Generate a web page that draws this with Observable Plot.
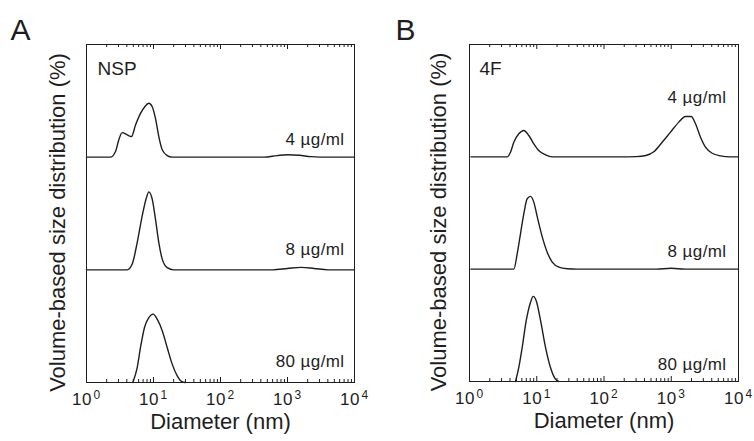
<!DOCTYPE html>
<html><head><meta charset="utf-8">
<script src="https://cdn.jsdelivr.net/npm/d3@7"></script>
<script src="https://cdn.jsdelivr.net/npm/@observablehq/plot@0.6"></script>
<style>
body{margin:0;background:#fff;}
#wrap{display:flex;width:754px;height:441px;overflow:hidden;}
#wrap svg{font-family:"Liberation Sans",Arial,Helvetica,sans-serif;color:#1e1e1e;}
.conc text{letter-spacing:0.4px;}
.tk text{letter-spacing:0.5px;}
</style></head><body><div id="wrap"></div>
<script>
// ---- data ----
const tickValues = [1, 10, 100, 1000, 10000];
const tickExponents = ["0", "1", "2", "3", "4"];
const concentrations = ["4 µg/ml", "8 µg/ml", "80 µg/ml"];
const stackOffsets = [20, 10, 0]; // % units added to stack the three traces
const yTitle = "Volume-based size distribution (%)";
const xTitle = "Diameter (nm)";

// [diameter (nm), volume %]
const nsp4 = [[1,0],[2.28,0],[2.71,0.5],[3.03,1.53],[3.41,2.18],[4.05,1.98],[4.69,1.83],[5.39,2.85],[6.4,3.89],[7.41,4.48],[8.51,4.78],[9.57,4.48],[10.7,3.44],[12.0,1.83],[13.5,0.65],[16.0,0.14],[19.0,0],[450,0],[700,0.14],[1000,0.22],[1500,0.17],[2200,0.05],[3000,0],[10000,0]];
const nsp8 = [[1,0],[4.05,0],[4.81,0.51],[5.71,2.42],[6.78,4.79],[7.86,6.42],[8.51,6.92],[9.57,6.27],[10.7,4.5],[12.0,2.42],[13.5,0.95],[16.0,0.2],[20.1,0],[600,0],[1000,0.12],[1600,0.22],[2500,0.12],[4000,0],[10000,0]];
const nsp80 = [[4.91,0],[5.71,1.33],[6.4,3.11],[7.34,4.88],[8.51,5.75],[9.89,6.07],[11.4,5.6],[13.5,4.6],[16.0,3.11],[19.0,1.63],[22.6,0.59],[26.8,0.06],[30,0]];

const f4 = [[1.05,0],[3.64,0],[4.07,0.41],[4.56,1.3],[5.41,2.05],[6.42,2.35],[7.62,1.9],[9.04,1.16],[10.7,0.56],[13.5,0.18],[17.0,0],[176,0],[300,0.02],[420,0.12],[550,0.45],[733,1.3],[975,2.2],[1296,3.09],[1628,3.59],[1981,3.59],[2296,2.94],[2725,1.75],[3231,0.86],[4063,0.32],[5400,0.09],[7600,0],[10000,0]];
const f8 = [[1.05,0],[4.56,0],[5.12,1.37],[5.73,3.15],[6.42,4.93],[7.21,6.27],[8.07,6.48],[9.04,5.97],[10.2,4.63],[12.1,2.85],[14.3,1.51],[17.0,0.62],[21.3,0.18],[28.4,0.04],[40,0],[600,0],[1000,0.08],[1600,0],[10000,0]];
const f80 = [[4.83,0],[5.41,1.25],[6.08,3.04],[6.97,5.41],[8.07,7.04],[8.85,7.58],[9.82,7.19],[11.4,5.41],[13.5,3.04],[16.0,1.25],[19.0,0.21],[21.3,0]];

// ---- drawing ----
function panel(cfg) {
  const rows = [];
  cfg.curves.forEach((c, i) => c.forEach(([d, v]) => rows.push({series: concentrations[i], d, y: v + stackOffsets[i]})));
  const innerH = 441 - 44 - cfg.mb;
  const logTicks = d3.scaleLog().domain([1, 10000]).ticks();
  const minor = logTicks.filter(t => !tickValues.includes(t));
  const ink = "#1e1e1e";
  return Plot.plot({
    width: 377, height: 441,
    marginLeft: cfg.ml, marginRight: cfg.mr, marginTop: 44, marginBottom: cfg.mb,
    x: {type: "log", domain: [1, 10000], axis: null},
    y: {domain: [0, 30], axis: null},
    marks: [
      Plot.tickX(minor, {x: d => d, stroke: ink, strokeWidth: 1, insetTop: innerH - 3}),
      Plot.tickX(tickValues, {x: d => d, stroke: ink, strokeWidth: 1, insetTop: innerH - 5}),
      Plot.tickX(minor, {x: d => d, stroke: ink, strokeWidth: 1, insetBottom: innerH - 3}),
      Plot.tickX(tickValues, {x: d => d, stroke: ink, strokeWidth: 1, insetBottom: innerH - 5}),
      Plot.frame({stroke: ink, strokeWidth: 1}),
      Plot.line(rows, {x: "d", y: "y", z: "series", stroke: ink, strokeWidth: 1.4, curve: "monotone-x"}),
      // tick labels 10^n
      Plot.text(tickValues, {x: d => d, frameAnchor: "bottom", text: () => "10", textAnchor: "end", lineAnchor: "bottom", dx: 5.5, dy: 22, fontSize: 17, fill: ink, className: "tk"}),
      Plot.text(tickValues, {x: d => d, frameAnchor: "bottom", text: (d, i) => tickExponents[i], textAnchor: "start", lineAnchor: "bottom", dx: 7, dy: 16, fontSize: 12, fill: ink}),
      // axis titles
      Plot.text([xTitle], {frameAnchor: "bottom", text: d => d, textAnchor: "middle", lineAnchor: "bottom", dy: 46, dx: cfg.xTitleDx, fontSize: 22, fill: ink}),
      Plot.text([yTitle], {frameAnchor: "left", text: d => d, textAnchor: "middle", rotate: -90, lineAnchor: "bottom", dx: cfg.yTitleDx, dy: 9, fontSize: 22, fill: ink}),
      // sample name and panel letter
      Plot.text([cfg.name], {frameAnchor: "top-left", text: d => d, textAnchor: "start", lineAnchor: "bottom", dx: cfg.nameDx, dy: 30, fontSize: 19, fill: ink}),
      Plot.text([cfg.letter], {frameAnchor: "top-left", text: d => d, textAnchor: "start", lineAnchor: "bottom", dx: cfg.letterDx, dy: -5, fontSize: 30, fill: ink}),
      // concentration labels
      ...concentrations.map((c, i) => Plot.text([c], {
        x: 10000, y: stackOffsets[i], text: d => d, textAnchor: "end", lineAnchor: "bottom",
        dx: cfg.concDx, dy: -cfg.concLift[i], fontSize: 17, fill: ink, className: "conc"
      }))
    ]
  });
}

const wrap = document.getElementById("wrap");
wrap.append(panel({
  letter: "A", name: "NSP", curves: [nsp4, nsp8, nsp80],
  ml: 86, mr: 23, mb: 59, letterDx: -76, nameDx: 11, yTitleDx: -22, xTitleDx: 0,
  concDx: -10, concLift: [12, 15, 16]
}));
wrap.append(panel({
  letter: "B", name: "4F", curves: [f4, f8, f80],
  ml: 92, mr: 16, mb: 60, letterDx: -74, nameDx: 10, yTitleDx: -24, xTitleDx: 0,
  concDx: -12, concLift: [54, 12, 12]
}));
</script></body></html>
